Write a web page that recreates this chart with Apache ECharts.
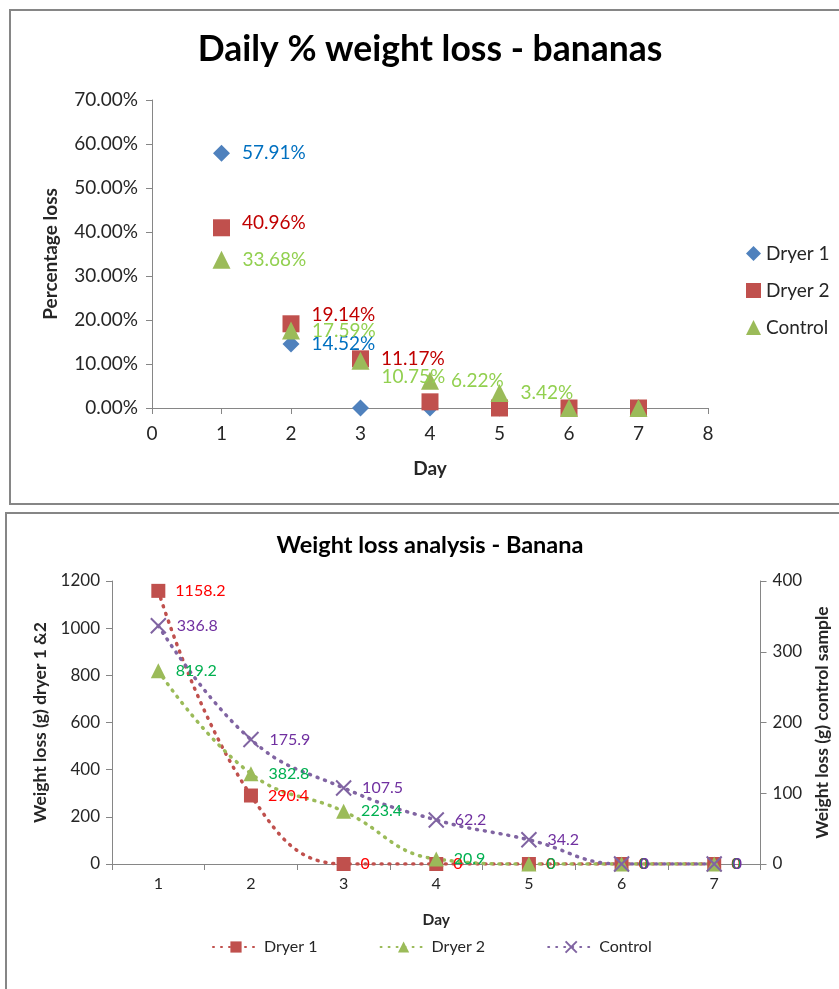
<!DOCTYPE html>
<html>
<head>
<meta charset="utf-8">
<script src="https://cdn.jsdelivr.net/npm/echarts@6/dist/echarts.min.js"></script>
<style>
  html, body { margin: 0; padding: 0; background: #fff; }
  #chart { width: 839px; height: 989px; }
</style>
</head>
<body>
<div id="chart"></div>
<script>
// ---- Daily % weight loss (fractions) ----
const pctDays = [1, 2, 3, 4, 5, 6, 7];
const pctDryer1 = [0.5791, 0.1452, 0, 0, 0, 0, 0];
const pctDryer2 = [0.4096, 0.1914, 0.1117, 0.014, 0, 0, 0];
const pctControl = [0.3368, 0.1759, 0.1075, 0.0622, 0.0342, 0, 0];

// ---- Weight loss in grams ----
const wDays = ['1', '2', '3', '4', '5', '6', '7'];
const wDryer1 = [1158.2, 290.4, 0, 0, 0, 0, 0];
const wDryer2 = [819.2, 382.8, 223.4, 20.9, 0, 0, 0];
const wControl = [336.8, 175.9, 107.5, 62.2, 34.2, 0, 0];

const FONT = 'Lato, "Open Sans", sans-serif';
const AXIS_GREY = '#868686';
const TEXT = '#262626';

// vertical nudges for crowded percentage labels (series name -> day -> dy)
const pctLabelNudge = {
  'Dryer 2': { 1: -5, 2: -9 },
  'Control': { 3: 16 }
};

function pctPoints(name, values) {
  return values.map((v, i) => {
    const day = pctDays[i];
    const dy = (pctLabelNudge[name] && pctLabelNudge[name][day]) || 0;
    return {
      value: [day, v],
      label: { offset: [0, dy] }
    };
  });
}

function pctLabel(color) {
  return {
    show: true,
    position: 'right',
    distance: 12,
    color: color,
    fontFamily: FONT,
    fontSize: 19,
    formatter: p => (p.value[1] > 0.02 ? (p.value[1] * 100).toFixed(2) + '%' : '')
  };
}

function gLabel(color) {
  return {
    show: true,
    position: 'right',
    distance: 10,
    color: color,
    fontFamily: FONT,
    fontSize: 16,
    formatter: p => String(p.value)
  };
}

const dots = w => ({ width: w, type: [1, 7], cap: 'round' });

const chart = echarts.init(document.getElementById('chart'), null, { renderer: 'canvas' });

chart.setOption({
  animation: false,
  backgroundColor: '#fff',
  graphic: [
    { type: 'rect', shape: { x: 10, y: 10, width: 860, height: 494 },
      style: { fill: 'none', stroke: AXIS_GREY, lineWidth: 2 }, z: -1 },
    { type: 'rect', shape: { x: 6, y: 513, width: 870, height: 500 },
      style: { fill: 'none', stroke: AXIS_GREY, lineWidth: 2 }, z: -1 },
    { type: 'text', x: 430, y: 50,
      style: { text: 'Daily % weight loss - bananas', fontFamily: FONT, fontWeight: 'bold',
               fontSize: 35.5, fill: '#000', textAlign: 'center', textVerticalAlign: 'middle' } },
    { type: 'text', x: 430, y: 545,
      style: { text: 'Weight loss analysis - Banana', fontFamily: FONT, fontWeight: 'bold',
               fontSize: 23.5, fill: '#000', textAlign: 'center', textVerticalAlign: 'middle' } }
  ],
  legend: [
    {
      data: ['Dryer 1', 'Dryer 2', 'Control'].map(n => ({ name: n })),
      orient: 'vertical',
      left: 741, top: 239,
      itemWidth: 15, itemHeight: 15, itemGap: 18,
      textStyle: { fontFamily: FONT, fontSize: 19, color: TEXT },
      seriesIndex: [0, 1, 2]
    },
    {
      data: [{ name: 'Dryer 1 ' }, { name: 'Dryer 2 ' }, { name: 'Control ' }],
      orient: 'horizontal',
      left: 207, top: 934,
      itemWidth: 46, itemHeight: 14, itemGap: 58,
      textStyle: { fontFamily: FONT, fontSize: 16, color: TEXT }
    }
  ],
  grid: [
    { left: 152, right: 131, top: 100, bottom: 581, containLabel: false },
    { left: 112, right: 78, top: 581, bottom: 125, containLabel: false }
  ],
  xAxis: [
    {
      gridIndex: 0, type: 'value', min: 0, max: 8, interval: 1,
      name: 'Day', nameLocation: 'middle', nameGap: 51,
      nameTextStyle: { fontFamily: FONT, fontWeight: 'bold', fontSize: 19, color: TEXT },
      axisLine: { lineStyle: { color: AXIS_GREY, width: 1 } },
      axisTick: { show: true, length: 6, lineStyle: { color: AXIS_GREY } },
      axisLabel: { fontFamily: FONT, fontSize: 19, color: TEXT, margin: 16 },
      splitLine: { show: false }
    },
    {
      gridIndex: 1, type: 'category', data: wDays, boundaryGap: true,
      name: 'Day', nameLocation: 'middle', nameGap: 48,
      nameTextStyle: { fontFamily: FONT, fontWeight: 'bold', fontSize: 15.5, color: TEXT },
      axisLine: { lineStyle: { color: AXIS_GREY, width: 1 } },
      axisTick: { show: true, length: 6, alignWithLabel: false, lineStyle: { color: AXIS_GREY } },
      axisLabel: { fontFamily: FONT, fontSize: 16, color: TEXT, margin: 12 },
      splitLine: { show: false }
    }
  ],
  yAxis: [
    {
      gridIndex: 0, type: 'value', min: 0, max: 0.7, interval: 0.1,
      name: 'Percentage loss', nameLocation: 'middle', nameGap: 92, nameRotate: 90,
      nameTextStyle: { fontFamily: FONT, fontWeight: 'bold', fontSize: 19, color: TEXT },
      axisLine: { show: true, lineStyle: { color: AXIS_GREY, width: 1 } },
      axisTick: { show: true, length: 6, lineStyle: { color: AXIS_GREY } },
      axisLabel: { fontFamily: FONT, fontSize: 19, color: TEXT, margin: 14,
                   formatter: v => (v * 100).toFixed(2) + '%' },
      splitLine: { show: false }
    },
    {
      gridIndex: 1, type: 'value', min: 0, max: 1200, interval: 200,
      name: 'Weight loss (g) dryer 1 &2', nameLocation: 'middle', nameGap: 63, nameRotate: 90,
      nameTextStyle: { fontFamily: FONT, fontWeight: 'bold', fontSize: 17.5, color: TEXT },
      axisLine: { show: true, lineStyle: { color: AXIS_GREY, width: 1 } },
      axisTick: { show: true, length: 6, lineStyle: { color: AXIS_GREY } },
      axisLabel: { fontFamily: FONT, fontSize: 17, color: TEXT, margin: 12,
                   formatter: v => String(v) },
      splitLine: { show: false }
    },
    {
      gridIndex: 1, type: 'value', position: 'right', min: 0, max: 400, interval: 100,
      name: 'Weight loss (g) control sample', nameLocation: 'middle', nameGap: 52, nameRotate: 90,
      nameTextStyle: { fontFamily: FONT, fontWeight: 'bold', fontSize: 17.5, color: TEXT },
      axisLine: { show: true, lineStyle: { color: AXIS_GREY, width: 1 } },
      axisTick: { show: true, length: 6, lineStyle: { color: AXIS_GREY } },
      axisLabel: { fontFamily: FONT, fontSize: 17, color: TEXT, margin: 12,
                   formatter: v => String(v) },
      splitLine: { show: false }
    }
  ],
  series: [
    {
      name: 'Dryer 1', type: 'scatter', xAxisIndex: 0, yAxisIndex: 0,
      symbol: 'diamond', symbolSize: 17,
      itemStyle: { color: '#4F81BD', opacity: 1 },
      label: pctLabel('#0070C0'),
      data: pctPoints('Dryer 1', pctDryer1)
    },
    {
      name: 'Dryer 2', type: 'scatter', xAxisIndex: 0, yAxisIndex: 0,
      symbol: 'rect', symbolSize: 17,
      itemStyle: { color: '#C0504D', opacity: 1 },
      label: pctLabel('#C00000'),
      data: pctPoints('Dryer 2', pctDryer2)
    },
    {
      name: 'Control', type: 'scatter', xAxisIndex: 0, yAxisIndex: 0,
      symbol: 'triangle', symbolSize: 18,
      itemStyle: { color: '#9BBB59', opacity: 1 },
      label: pctLabel('#92D050'),
      data: pctPoints('Control', pctControl)
    },
    {
      name: 'Dryer 1 ', type: 'line', xAxisIndex: 1, yAxisIndex: 1,
      smooth: 0.45,
      symbol: 'rect', symbolSize: 14, showAllSymbol: true,
      lineStyle: dots(3.5), itemStyle: { color: '#C0504D' },
      label: gLabel('#FF0000'),
      data: wDryer1
    },
    {
      name: 'Dryer 2 ', type: 'line', xAxisIndex: 1, yAxisIndex: 1,
      smooth: 0.45,
      symbol: 'triangle', symbolSize: 15, showAllSymbol: true,
      lineStyle: dots(3.5), itemStyle: { color: '#9BBB59' },
      label: gLabel('#00B050'),
      data: wDryer2
    },
    {
      name: 'Control ', type: 'line', xAxisIndex: 1, yAxisIndex: 2,
      smooth: 0.45,
      symbol: 'path://M0,0L10,10M10,0L0,10', symbolSize: 15, showAllSymbol: true,
      lineStyle: dots(3.5),
      itemStyle: { color: '#8064A2', borderColor: '#8064A2', borderWidth: 2 },
      label: gLabel('#7030A0'),
      data: wControl
    }
  ]
});
</script>
</body>
</html>
